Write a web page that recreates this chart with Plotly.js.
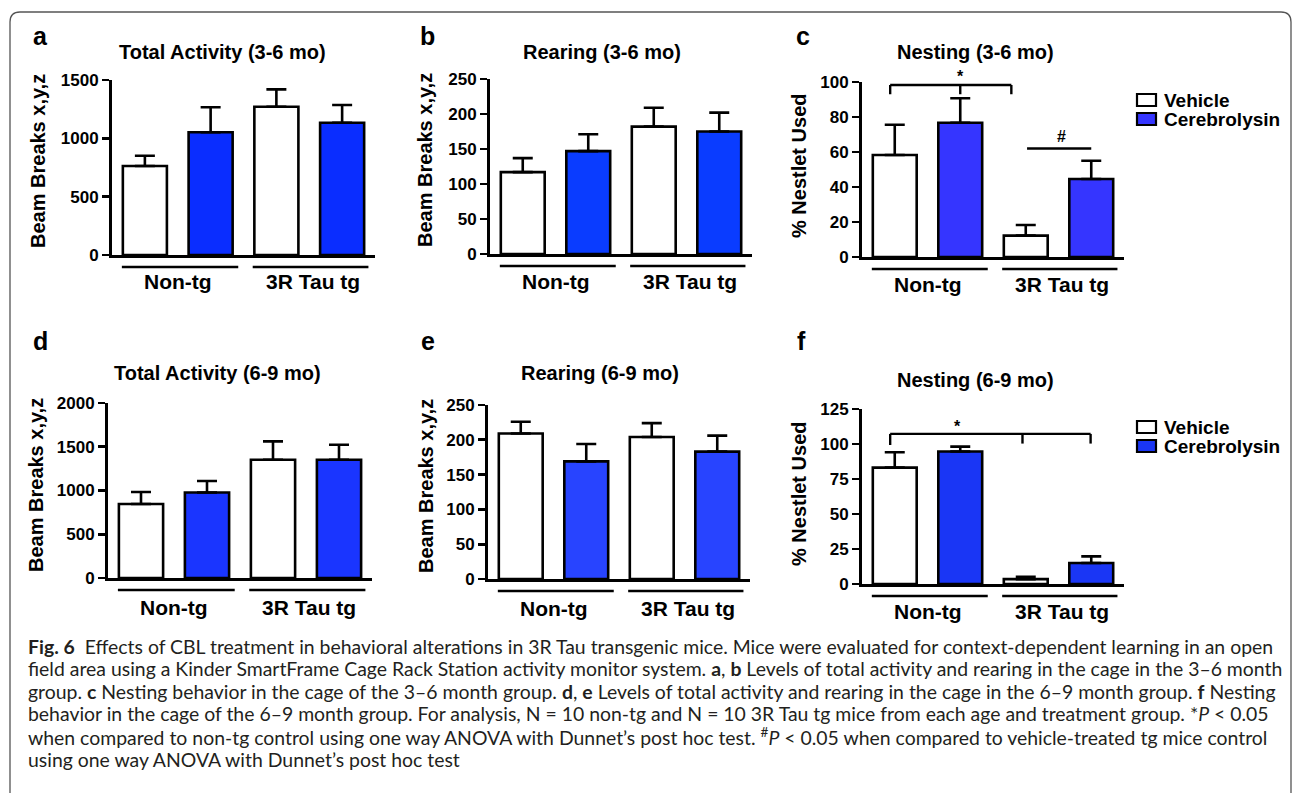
<!DOCTYPE html>
<html><head><meta charset="utf-8">
<script src="https://cdn.plot.ly/plotly-3.0.1.min.js"></script>
<style>html,body{margin:0;padding:0;background:#fff;overflow:hidden}#chart{width:1293px;height:793px}</style>
</head><body><div id="chart"></div>
<script>
// ---------------- DATA ----------------
const groupLabels = ['Non-tg', '3R Tau tg'];
const treatmentLabels = ['Vehicle', 'Cerebrolysin'];

// a: Total Activity (3-6 mo)
const activity36Vehicle = [763, 1271];
const activity36VehicleSEM = [88, 149];
const activity36Cbl = [1052, 1134];
const activity36CblSEM = [214, 152];
// b: Rearing (3-6 mo)
const rearing36Vehicle = [117, 182];
const rearing36VehicleSEM = [20, 27];
const rearing36Cbl = [147, 175];
const rearing36CblSEM = [24, 27];
// c: Nesting (3-6 mo)
const nesting36Vehicle = [58.3, 12.2];
const nesting36VehicleSEM = [17.3, 6.1];
const nesting36Cbl = [76.7, 44.6];
const nesting36CblSEM = [14, 10.4];
// d: Total Activity (6-9 mo)
const activity69Vehicle = [846, 1352];
const activity69VehicleSEM = [137, 209];
const activity69Cbl = [978, 1352];
const activity69CblSEM = [131, 171];
// e: Rearing (6-9 mo)
const rearing69Vehicle = [209, 204];
const rearing69VehicleSEM = [17, 20];
const rearing69Cbl = [169, 183];
const rearing69CblSEM = [25, 23];
// f: Nesting (6-9 mo)
const nesting69Vehicle = [83.1, 3.5];
const nesting69VehicleSEM = [11, 1.7];
const nesting69Cbl = [94.6, 15];
const nesting69CblSEM = [3.5, 4.7];

const tickValsActivity36 = [0, 500, 1000, 1500];
const tickValsRearing = [0, 50, 100, 150, 200, 250];
const tickValsNesting36 = [0, 20, 40, 60, 80, 100];
const tickValsActivity69 = [0, 500, 1000, 1500, 2000];
const tickValsNesting69 = [0, 25, 50, 75, 100, 125];

const captionLines = [
  '<b>Fig. 6</b>  Effects of CBL treatment in behavioral alterations in 3R Tau transgenic mice. Mice were evaluated for context-dependent learning in an open',
  'field area using a Kinder SmartFrame Cage Rack Station activity monitor system. <b>a</b>, <b>b</b> Levels of total activity and rearing in the cage in the 3–6 month',
  'group. <b>c</b> Nesting behavior in the cage of the 3–6 month group. <b>d</b>, <b>e</b> Levels of total activity and rearing in the cage in the 6–9 month group. <b>f</b> Nesting',
  'behavior in the cage of the 6–9 month group. For analysis, N = 10 non-tg and N = 10 3R Tau tg mice from each age and treatment group. *<i>P</i> &lt; 0.05',
  'when compared to non-tg control using one way ANOVA with Dunnet’s post hoc test. <sup>#</sup><i>P</i> &lt; 0.05 when compared to vehicle-treated tg mice control',
  'using one way ANOVA with Dunnet’s post hoc test'
];

// ---------------- LAYOUT CONFIG ----------------
const W = 1293, H = 793;
const px = x => x / W, py = y => 1 - y / H;
const F = 'Liberation Sans, Arial, Helvetica, sans-serif';

const panels = [
  {letter:'a', title:'Total Activity (3-6 mo)', ytitle:'Beam Breaks x,y,z', veh:activity36Vehicle, vehE:activity36VehicleSEM, cbl:activity36Cbl, cblE:activity36CblSEM, ticks:tickValsActivity36,
   xd:[112,375], yd:[80,255], blue:'#0a2dff', letterPos:[40,36], titlePos:[222,52], ytPos:[38,161], labelY:281},
  {letter:'b', title:'Rearing (3-6 mo)', ytitle:'Beam Breaks x,y,z', veh:rearing36Vehicle, vehE:rearing36VehicleSEM, cbl:rearing36Cbl, cblE:rearing36CblSEM, ticks:tickValsRearing,
   xd:[490,752], yd:[79,254], blue:'#0a3cff', letterPos:[427,36], titlePos:[602,52], ytPos:[425,160], labelY:281},
  {letter:'c', title:'Nesting (3-6 mo)', ytitle:'% Nestlet Used', veh:nesting36Vehicle, vehE:nesting36VehicleSEM, cbl:nesting36Cbl, cblE:nesting36CblSEM, ticks:tickValsNesting36,
   xd:[862,1124], yd:[82,257], blue:'#3535ff', letterPos:[803,36], titlePos:[975,52], ytPos:[799,165], labelY:284},
  {letter:'d', title:'Total Activity (6-9 mo)', ytitle:'Beam Breaks x,y,z', veh:activity69Vehicle, vehE:activity69VehicleSEM, cbl:activity69Cbl, cblE:activity69CblSEM, ticks:tickValsActivity69,
   xd:[108,372], yd:[403,578], blue:'#1a35ff', letterPos:[40,341], titlePos:[217,373], ytPos:[36,485], labelY:607},
  {letter:'e', title:'Rearing (6-9 mo)', ytitle:'Beam Breaks x,y,z', veh:rearing69Vehicle, vehE:rearing69VehicleSEM, cbl:rearing69Cbl, cblE:rearing69CblSEM, ticks:tickValsRearing,
   xd:[488,750], yd:[405,579], blue:'#2844ff', letterPos:[428,341], titlePos:[600,373], ytPos:[426,486], labelY:608},
  {letter:'f', title:'Nesting (6-9 mo)', ytitle:'% Nestlet Used', veh:nesting69Vehicle, vehE:nesting69VehicleSEM, cbl:nesting69Cbl, cblE:nesting69CblSEM, ticks:tickValsNesting69,
   xd:[862,1124], yd:[409,584], blue:'#1a36f5', letterPos:[801,341], titlePos:[975,380], ytPos:[799,493], labelY:611}
];

const data = [];
const layout = {
  width: W, height: H, margin:{l:0,r:0,t:0,b:0}, paper_bgcolor:'#fff', plot_bgcolor:'rgba(0,0,0,0)',
  showlegend:false, barmode:'overlay', annotations:[], shapes:[], font:{family:F, color:'#000'}
};

panels.forEach((p, i) => {
  const n = i + 1, xs = n === 1 ? '' : n, xa = 'x' + xs, ya = 'y' + xs;
  const vehX = groupLabels.map((g, gi) => gi * 2);
  const cblX = groupLabels.map((g, gi) => gi * 2 + 1);
  const barStyle = {line:{color:'#000', width:2.6}};
  const err = arr => ({type:'data', array:arr, arrayminus:arr.map(() => 0), symmetric:false, color:'#000', thickness:2.6, width:10});
  data.push({type:'bar', name:treatmentLabels[0], x:vehX, y:p.veh, width:0.67, xaxis:xa, yaxis:ya,
    marker:Object.assign({color:'#ffffff'}, barStyle), error_y:err(p.vehE), cliponaxis:false, hoverinfo:'y'});
  data.push({type:'bar', name:treatmentLabels[1], x:cblX, y:p.cbl, width:0.67, xaxis:xa, yaxis:ya,
    marker:Object.assign({color:p.blue}, barStyle), error_y:err(p.cblE), cliponaxis:false, hoverinfo:'y'});

  const ymax = p.ticks[p.ticks.length - 1];
  layout['xaxis' + xs] = {domain:[px(p.xd[0]), px(p.xd[1])], range:[-0.5, 3.5], anchor:ya, showline:true, linewidth:3, linecolor:'#000',
    showticklabels:false, ticks:'', showgrid:false, zeroline:false, fixedrange:true};
  layout['yaxis' + xs] = {domain:[py(p.yd[1]), py(p.yd[0])], range:[0, ymax], anchor:xa, tickvals:p.ticks, ticks:'outside', ticklen:7, tickwidth:2.6,
    tickcolor:'#000', showline:true, linewidth:3, linecolor:'#000', showgrid:false, zeroline:false, fixedrange:true,
    tickfont:{family:F, size:17, weight:'bold', color:'#000'}};

  const A = layout.annotations, S = layout.shapes;
  A.push({xref:'paper', yref:'paper', x:px(p.letterPos[0]), y:py(p.letterPos[1]), text:p.letter, showarrow:false, xanchor:'center', yanchor:'middle',
    font:{family:F, size:25, weight:'bold', color:'#000'}});
  A.push({xref:'paper', yref:'paper', x:px(p.titlePos[0]), y:py(p.titlePos[1]), text:p.title, showarrow:false, xanchor:'center', yanchor:'middle',
    font:{family:F, size:20, weight:'bold', color:'#000'}});
  A.push({xref:'paper', yref:'paper', x:px(p.ytPos[0]), y:py(p.ytPos[1]), text:p.ytitle, textangle:-90, showarrow:false, xanchor:'center', yanchor:'middle',
    font:{family:F, size:20, weight:'bold', color:'#000'}});
  // group underlines + labels
  const lineY = py(p.yd[1] + 12);
  [[0.0375, 0.48], [0.535, 0.975]].forEach(([a, b]) => {
    S.push({type:'line', xref:xa + ' domain', yref:'paper', x0:a, x1:b, y0:lineY, y1:lineY, line:{color:'#000', width:2.6}});
  });
  groupLabels.forEach((g, gi) => {
    A.push({xref:xa, yref:'paper', x: gi === 0 ? 0.5 : 2.55, y:py(p.labelY), text:g, showarrow:false, xanchor:'center', yanchor:'middle',
      font:{family:F, size:21, weight:'bold', color:'#000'}});
  });
});

// significance marks
const seg = (xa, ya, x0, y0, x1, y1) => ({type:'line', xref:xa, yref:ya, x0, y0, x1, y1, line:{color:'#000', width:2.4}});
// panel c bracket (*) and hash line (#)
layout.shapes.push(seg('x3','y3', -0.07, 98.3, 1.78, 98.3), seg('x3','y3', -0.07, 98.3, -0.07, 93), seg('x3','y3', 1.0, 98.3, 1.0, 93), seg('x3','y3', 1.78, 98.3, 1.78, 93));
layout.shapes.push(seg('x3','y3', 2.02, 62, 3.0, 62));
layout.annotations.push({xref:'x3', yref:'paper', x:1.0, y:py(77), text:'*', showarrow:false, yanchor:'middle', font:{family:F, size:16, weight:'bold', color:'#000'}});
layout.annotations.push({xref:'x3', yref:'y3', x:2.55, y:69, text:'#', showarrow:false, font:{family:F, size:16, weight:'bold', color:'#000'}});
// panel f bracket (*)
layout.shapes.push(seg('x6','y6', -0.07, 107.2, 2.99, 107.2), seg('x6','y6', -0.07, 107.2, -0.07, 99.3), seg('x6','y6', 1.95, 107.2, 1.95, 100.3), seg('x6','y6', 2.99, 107.2, 2.99, 100.3));
layout.annotations.push({xref:'x6', yref:'y6', x:0.96, y:112.5, text:'*', showarrow:false, font:{family:F, size:16, weight:'bold', color:'#000'}});

// legends (c and f)
[[94, panels[2].blue], [421, panels[5].blue]].forEach(([top, blue]) => {
  treatmentLabels.forEach((t, ti) => {
    const y0 = top + ti * 19;
    layout.shapes.push({type:'rect', xref:'paper', yref:'paper', x0:px(1137), x1:px(1156), y0:py(y0 + 12), y1:py(y0),
      fillcolor: ti === 0 ? '#fff' : blue, line:{color:'#000', width:2.2}});
    layout.annotations.push({xref:'paper', yref:'paper', x:px(1162), y:py(y0 + 6.5), text:t, showarrow:false, xanchor:'left', yanchor:'middle',
      font:{family:F, size:19, weight:'bold', color:'#000'}});
  });
});

// frame
(function(){
  const L = 10, T = 12, R = 1291, r = 10;
  const path = `M ${px(L)} ${py(H)} L ${px(L)} ${py(T + r)} Q ${px(L)} ${py(T)} ${px(L + r)} ${py(T)} L ${px(R - r)} ${py(T)} Q ${px(R)} ${py(T)} ${px(R)} ${py(T + r)} L ${px(R)} ${py(H)}`;
  layout.shapes.push({type:'path', xref:'paper', yref:'paper', path, line:{color:'#555', width:1.3}});
})();

// caption
(function(){
  const CF = 'Lato';
  const ctx = document.createElement('canvas').getContext('2d');
  const strip = s => s.replace(/<[^>]+>/g, '').replace(/&lt;/g, '<');
  ctx.font = `100px ${CF}`;
  let sum = 0;
  for (let i = 0; i < 5; i++) sum += ctx.measureText(strip(captionLines[i])).width;
  let size = 100 * 1249 / (sum / 5);
  if (!isFinite(size) || size < 10 || size > 24) size = 17;
  captionLines.forEach((t, i) => {
    layout.annotations.push({xref:'paper', yref:'paper', x:px(26), y:py(646 + i * 22.6), text:t, showarrow:false, xanchor:'left', yanchor:'middle', align:'left',
      font:{family:CF + ', Open Sans, sans-serif', size:size, color:'#231f20'}});
  });
})();

Plotly.newPlot('chart', data, layout, {staticPlot:true, displayModeBar:false});
</script></body></html>
